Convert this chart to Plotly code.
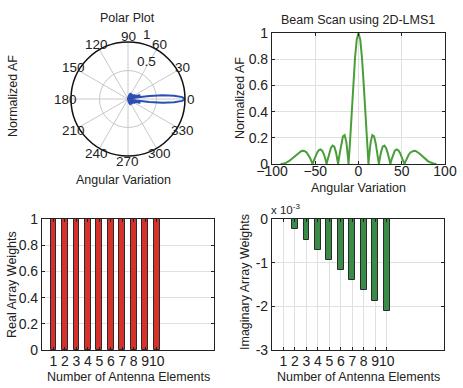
import math
import plotly.graph_objects as go

# ---------------- data ----------------
theta_deg = [-90, -88, -86, -84, -82, -80, -78, -76, -74, -72, -70, -68, -66, -64, -62, -60, -58, -56, -54,
             -53.13, -52, -50, -48, -46, -44, -42, -40, -38, -36.87, -36, -34, -32, -30, -28, -26, -24,
             -23.58, -22, -20, -18, -16, -14, -12, -11.54, -10, -8, -6, -4, -2,
             0,
             2, 4, 6, 8, 10, 11.54, 12, 14, 16, 18, 20, 22, 23.58, 24, 26, 28, 30, 32, 34, 36, 36.87,
             38, 40, 42, 44, 46, 48, 50, 52, 53.13, 54, 56, 58, 60, 62, 64, 66, 68, 70, 72, 74, 76, 78,
             80, 82, 84, 86, 88, 90]
norm_af = [0, 0.001, 0.004, 0.009, 0.015, 0.024, 0.034, 0.045, 0.057, 0.070, 0.082, 0.092, 0.099, 0.101,
           0.098, 0.088, 0.071, 0.046, 0.015, 0, 0.020, 0.054, 0.085, 0.105, 0.112, 0.102, 0.074, 0.030,
           0, 0.024, 0.078, 0.121, 0.141, 0.132, 0.089, 0.018, 0, 0.070, 0.154, 0.212, 0.221, 0.165,
           0.039, 0, 0.149, 0.377, 0.610, 0.813, 0.951,
           1.0,
           0.951, 0.813, 0.610, 0.377, 0.149, 0, 0.039, 0.165, 0.221, 0.212, 0.154, 0.070, 0, 0.018,
           0.089, 0.132, 0.141, 0.121, 0.078, 0.024, 0, 0.030, 0.074, 0.102, 0.112, 0.105, 0.085,
           0.054, 0.020, 0, 0.015, 0.046, 0.071, 0.088, 0.098, 0.101, 0.099, 0.092, 0.082, 0.070,
           0.057, 0.045, 0.034, 0.024, 0.015, 0.009, 0.004, 0.001, 0]
assert len(theta_deg) == len(norm_af)

elements = [1, 2, 3, 4, 5, 6, 7, 8, 9, 10]
real_weights = [1, 1, 1, 1, 1, 1, 1, 1, 1, 1]
imag_weights = [0, -0.23e-3, -0.47e-3, -0.70e-3, -0.93e-3, -1.17e-3, -1.40e-3, -1.63e-3, -1.87e-3, -2.10e-3]

polar_angle_ticks = [0, 30, 60, 90, 120, 150, 180, 210, 240, 270, 300, 330]
radial_ticks = [0.5, 1]
radial_tick_text = ["0.5", "1"]

# ---------------- figure ----------------
W, H = 463, 388
FONT = "Liberation Sans, Arial, sans-serif"
TXT = "#222222"
PCX, PCY, PR = 128, 99, 57   # polar centre / radius in pixels (layout)

def px(x):
    return x / W

def py(y):
    return 1 - y / H

fig = go.Figure()

# polar
fig.add_trace(go.Scatterpolar(r=norm_af, theta=theta_deg, mode="lines",
                              line=dict(color="#2b4fb3", width=2), subplot="polar", showlegend=False))

# beam scan
fig.add_trace(go.Scatter(x=theta_deg, y=norm_af, mode="lines", line=dict(color="#4a9e3a", width=2),
                         xaxis="x", yaxis="y", showlegend=False))

# real weights
fig.add_trace(go.Bar(x=elements, y=real_weights, width=0.5,
                     marker=dict(color="#d8312b", line=dict(color="#2a2a2a", width=1)),
                     xaxis="x2", yaxis="y2", showlegend=False))

# imaginary weights
fig.add_trace(go.Bar(x=elements, y=imag_weights, width=0.5,
                     marker=dict(color="#3a8a48", line=dict(color="#2a2a2a", width=1)),
                     xaxis="x3", yaxis="y3", showlegend=False))

axis_common = dict(showline=True, mirror="allticks", linecolor="#222222", linewidth=1.2,
                   ticks="inside", ticklen=3, tickcolor="#222222", tickangle=0, automargin=False,
                   showgrid=True, gridcolor="#e0e0e0", gridwidth=1, zeroline=False,
                   tickfont=dict(size=14, color=TXT, family=FONT))

fig.update_layout(
    width=W, height=H,
    margin=dict(l=0, r=0, t=0, b=0, autoexpand=False),
    paper_bgcolor="white", plot_bgcolor="white",
    bargap=0,
    polar=dict(
        domain=dict(x=[px(PCX - PR), px(PCX + PR)], y=[py(PCY + PR), py(PCY - PR)]),
        bgcolor="white",
        radialaxis=dict(range=[0, 1], tickvals=radial_ticks, showticklabels=False, ticks="",
                        showline=False, showgrid=True, gridcolor="#c8c8c8", gridwidth=1),
        angularaxis=dict(direction="counterclockwise", rotation=0, tickmode="array",
                         tickvals=polar_angle_ticks, showticklabels=False,
                         ticks="", showline=True, linecolor="#111111", linewidth=1.5,
                         showgrid=True, gridcolor="#c8c8c8", gridwidth=1),
    ),
    xaxis=dict(domain=[px(272), px(445)], anchor="y", range=[-100, 100], dtick=50,
               ticklabelstandoff=-6, **axis_common),
    yaxis=dict(domain=[py(164), py(33)], anchor="x", range=[0, 1], dtick=0.2, **axis_common),
    xaxis2=dict(domain=[px(42), px(214)], anchor="y2", range=[0, 15], tickvals=elements,
                ticklabelstandoff=-2, **axis_common),
    yaxis2=dict(domain=[py(350), py(219)], anchor="x2", range=[0, 1], dtick=0.2, **axis_common),
    xaxis3=dict(domain=[px(272), px(444)], anchor="y3", range=[0, 15], tickvals=elements,
                ticklabelstandoff=-2, **axis_common),
    yaxis3=dict(domain=[py(350), py(219)], anchor="x3", range=[-3e-3, 0],
                tickvals=[-3e-3, -2e-3, -1e-3, 0], ticktext=["-3", "-2", "-1", "0"], **axis_common),
)

def ann(text, x, y, angle=0, size=12.5):
    fig.add_annotation(text=text, x=px(x), y=py(y), xref="paper", yref="paper", showarrow=False,
                       textangle=angle, xanchor="center", yanchor="middle",
                       font=dict(size=size, color=TXT, family=FONT))

# polar angle labels (placed at 1.1 x radius, like MATLAB's polar)
for a in polar_angle_ticks:
    rr = 1.1 * PR
    ann(str(a), PCX + rr * math.cos(math.radians(a)), PCY - rr * math.sin(math.radians(a)), size=13.5)
# radial labels
ann(radial_tick_text[0], 146, 62, size=13.5)
ann(radial_tick_text[1], 147, 34, size=13.5)

ann("Polar Plot", 127, 18)
ann("Angular Variation", 123, 180)
ann("Normalized AF", 13, 96, angle=-90)

ann("Beam Scan using 2D-LMS1", 358, 20)
ann("Angular Variation", 358, 188)
ann("Normalized AF", 240, 98, angle=-90)

ann("Number of Antenna Elements", 128, 377)
ann("Real Array Weights", 12, 285, angle=-90)

ann("Number of Antenna Elements", 358, 377)
ann("Imaginary Array Weights", 245, 282, angle=-90)
ann("x 10<sup>-3</sup>", 285, 209, size=11.5)

fig.write_html("out.html", config={"displayModeBar": False},
               post_script="document.body.style.margin='0px';document.body.style.overflow='hidden';")
